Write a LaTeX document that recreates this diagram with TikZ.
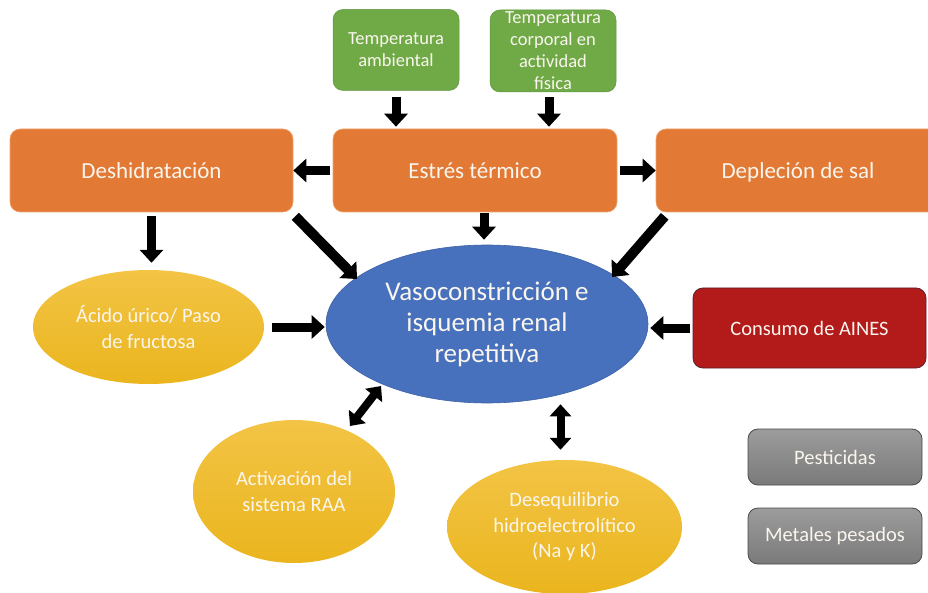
\documentclass[tikz,border=0pt]{standalone}
\usepackage{fontspec}
\setmainfont{Carlito}
\usetikzlibrary{arrows.meta,shapes.geometric}
\definecolor{cgreen}{HTML}{6FAA47}
\definecolor{cgreenD}{HTML}{5E9540}
\definecolor{corange}{HTML}{E27A36}
\definecolor{corangeL}{HTML}{F0A26C}
\definecolor{cblue}{HTML}{4770BD}
\definecolor{cblueD}{HTML}{3F62A6}
\definecolor{cred}{HTML}{B31A1A}
\definecolor{credD}{HTML}{5A2030}
\definecolor{cyelT}{HTML}{F3C445}
\definecolor{cyelB}{HTML}{EAB51E}
\definecolor{cgrayT}{HTML}{9C9C9C}
\definecolor{cgrayB}{HTML}{7A7A7A}
\definecolor{cgrayD}{HTML}{4A4A4A}
\definecolor{ctxt}{HTML}{FAF6EE}
\begin{document}
\begin{tikzpicture}[x=1pt,y=-1pt,
  box/.style={rectangle, rounded corners=10pt, inner sep=0pt, align=center, text=ctxt},
  greenbox/.style={box, fill=cgreen, draw=cgreenD, line width=0.5pt, minimum width=126pt, minimum height=81pt, font=\fontsize{18.5}{22}\selectfont},
  orangebox/.style={box, fill=corange, draw=corangeL, line width=0.6pt, minimum width=284pt, minimum height=83pt, font=\fontsize{23}{27}\selectfont},
  redbox/.style={box, fill=cred, draw=credD, line width=0.8pt, minimum width=233pt, minimum height=80pt, font=\fontsize{20.5}{24}\selectfont},
  graybox/.style={box, top color=cgrayT, bottom color=cgrayB, draw=cgrayD, line width=0.8pt, minimum width=174pt, minimum height=56pt, font=\fontsize{20.5}{24}\selectfont},
  yel/.style={ellipse, inner sep=0pt, align=center, text=ctxt, top color=cyelT, bottom color=cyelB, font=\fontsize{20.5}{25.5}\selectfont},
  bluell/.style={ellipse, inner sep=0pt, align=center, text=ctxt, fill=cblue, draw=cblueD, line width=0.6pt, font=\fontsize{27}{31}\selectfont},
  blk/.style={line width=9pt, draw=black, -{Triangle[width=23pt,length=13pt]}},
  dbl/.style={line width=8pt, draw=black, {Triangle[width=21pt,length=12pt]}-{Triangle[width=21pt,length=12pt]}}
]
\useasboundingbox (0,0) rectangle (928,593);

% nodes
\node[greenbox] (g1) at (396,50) {Temperatura\\ambiental};
\node[greenbox, minimum height=82pt] (g2) at (553,51) {Temperatura\\corporal en\\actividad\\física};
\node[orangebox] (estres) at (475,170.5) {Estrés térmico};
\node[orangebox, minimum width=283pt] (desh) at (151.5,170.5) {Deshidratación};
\node[orangebox, text depth=0pt] (depl) at (798,170.5) {Depleción de sal};
\node[bluell, minimum width=322pt, minimum height=158pt] (vaso) at (487,324) {Vasoconstricción e\\isquemia renal\\repetitiva};
\node[yel, minimum width=231pt, minimum height=114pt] (acido) at (148.5,327) {Ácido úrico/ Paso\\de fructosa};
\node[redbox] (aines) at (809.5,328) {Consumo de AINES};
\node[yel, minimum width=202pt, minimum height=143pt] (act) at (294,491.5) {Activación del\\sistema RAA};
\node[yel, minimum width=235pt, minimum height=134pt] (deseq) at (564.5,527) {Desequilibrio\\hidroelectrolítico\\(Na y K)};
\node[graybox] (pest) at (835,457) {Pesticidas};
\node[graybox] (metal) at (835,536) {Metales pesados};

% helper coordinates
\coordinate (d1) at (357,279);
\coordinate (d2) at (612,277);
\coordinate (a1) at (350,426);
\coordinate (a2) at (381,386);

% arrows
\draw[blk] ([yshift=-6pt]g1.south) -- ([yshift=2pt]g1.south |- estres.north);
\draw[blk] ([xshift=-4pt,yshift=-5pt]g2.south) -- ([xshift=-4pt,yshift=2pt]g2.south |- estres.north);
\draw[blk] ([xshift=-3pt]estres.west) -- (desh.east);
\draw[blk] ([xshift=3pt]estres.east) -- (depl.west);
\draw[blk] ([yshift=-4pt]desh.south) -- ([yshift=7pt]desh.south |- acido.north);
\draw[blk] ([xshift=9pt,yshift=-1pt]estres.south) -- ([xshift=9pt,yshift=5pt]estres.south |- vaso.north);
\draw[blk, line width=10pt] ([xshift=2pt,yshift=-4pt]desh.south east) -- (d1);
\draw[blk, line width=10pt] ([xshift=9pt,yshift=-4pt]depl.south west) -- (d2);
\draw[blk] ([xshift=8pt]acido.east) -- ([xshift=-1pt]acido.east -| vaso.west);
\draw[blk] ([xshift=-3pt]aines.west) -- ([xshift=2pt]aines.west -| vaso.east);
\draw[dbl] (a1) -- (a2);
\draw[dbl] ([xshift=-4pt,yshift=10pt]deseq.north) -- ([xshift=-4pt,yshift=-1pt]deseq.north |- vaso.south);
\end{tikzpicture}
\end{document}
